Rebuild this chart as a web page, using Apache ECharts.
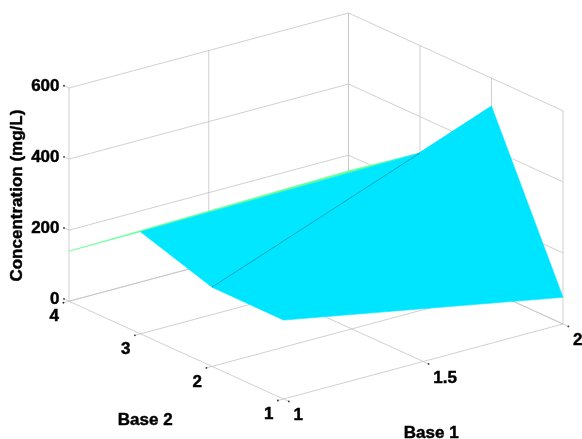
<!DOCTYPE html>
<html>
<head>
<meta charset="utf-8">
<script src="https://cdn.jsdelivr.net/npm/echarts@6/dist/echarts.min.js"></script>
<style>
html, body { margin: 0; padding: 0; background: #fff; }
#main { width: 582px; height: 439px; }
</style>
</head>
<body>
<div id="main"></div>
<script>
// values
var base1 = [1, 2];
var base2 = [1, 2, 3, 4];
// concentration (mg/L), one row per Base 2 value, one column per Base 1 value
var conc = [
    [222, 75],
    [223, 521],
    [287, 298],
    [141, 156]
];
var base1Ticks = [1, 1.5, 2];
var base2Ticks = [1, 2, 3, 4];
var concTicks = [0, 200, 400, 600];

// matlab-like 3d view, drawn on a hidden 2d grid
var az = -37.5 * Math.PI / 180;
var el = 20.5 * Math.PI / 180;
var zAspect = 0.647;
var xr = [1, 2], yr = [1, 4], zr = [0, 600];
var clim = [40, 560];
var font = '"Liberation Sans", Arial, sans-serif';

function norm(x, y, z) {
    return [
        (x - xr[0]) / (xr[1] - xr[0]),
        (y - yr[0]) / (yr[1] - yr[0]),
        (z - zr[0]) / (zr[1] - zr[0]) * zAspect
    ];
}
function proj(x, y, z) {
    var n = norm(x, y, z);
    var h = Math.cos(az) * n[0] + Math.sin(az) * n[1];
    var v = -Math.sin(el) * Math.sin(az) * n[0] + Math.sin(el) * Math.cos(az) * n[1] + Math.cos(el) * n[2];
    return [h, v];
}
// how close to the viewer (bigger = nearer)
function nearness(x, y, z) {
    var n = norm(x, y, z);
    return Math.cos(el) * Math.sin(az) * n[0] - Math.cos(el) * Math.cos(az) * n[1] + Math.sin(el) * n[2];
}
function clamp(v) { return Math.max(0, Math.min(1, v)); }
function jet(val) {
    var t = clamp((val - clim[0]) / (clim[1] - clim[0]));
    var r = clamp(1.5 - Math.abs(4 * t - 3));
    var g = clamp(1.5 - Math.abs(4 * t - 2));
    var b = clamp(1.5 - Math.abs(4 * t - 1));
    return 'rgb(' + Math.round(r * 255) + ',' + Math.round(g * 255) + ',' + Math.round(b * 255) + ')';
}

// box extent on screen
var hs = [], vs = [];
xr.forEach(function (x) { yr.forEach(function (y) { zr.forEach(function (z) {
    var p = proj(x, y, z); hs.push(p[0]); vs.push(p[1]);
}); }); });

// grid lines on floor and the two back walls
var segs = [];
base1Ticks.forEach(function (t) {
    segs.push([t, yr[0], zr[0], t, yr[1], zr[0]]);
    segs.push([t, yr[1], zr[0], t, yr[1], zr[1]]);
});
base2Ticks.forEach(function (t) {
    segs.push([xr[0], t, zr[0], xr[1], t, zr[0]]);
    segs.push([xr[1], t, zr[0], xr[1], t, zr[1]]);
});
concTicks.forEach(function (t) {
    segs.push([xr[0], yr[1], t, xr[1], yr[1], t]);
    segs.push([xr[1], yr[0], t, xr[1], yr[1], t]);
});

// ticks + labels: point, tick direction, text, pixel offset, align
var labels = [];
concTicks.forEach(function (t) {
    labels.push({ p: [xr[0], yr[1], t], d: [0, 0.07, 0], text: String(t), off: [-9.5, -1.5], align: 'right' });
});
base2Ticks.forEach(function (t) {
    labels.push({ p: [xr[0], t, zr[0]], d: [-0.02, 0, 0], text: String(t), off: [-10, 15.5], align: 'right' });
});
base1Ticks.forEach(function (t) {
    labels.push({ p: [t, yr[0], zr[0]], d: [0, -0.075, 0], text: String(t), off: [10, 16.7], align: 'left' });
});
var titles = [
    { p: [xr[0], yr[1], (zr[0] + zr[1]) / 2], text: 'Concentration (mg/L)', off: [-52, 1], rot: Math.PI / 2 },
    { p: [xr[0], (yr[0] + yr[1]) / 2, zr[0]], text: 'Base 2', off: [-31, 70], rot: 0 },
    { p: [(xr[0] + xr[1]) / 2, yr[0], zr[0]], text: 'Base 1', off: [8, 72], rot: 0 }
];

// surface faces, back to front
var faces = [];
for (var j = 0; j < base2.length - 1; j++) {
    for (var i = 0; i < base1.length - 1; i++) {
        var cz = (conc[j][i] + conc[j][i + 1] + conc[j + 1][i] + conc[j + 1][i + 1]) / 4;
        faces.push({ i: i, j: j, depth: nearness((base1[i] + base1[i + 1]) / 2, (base2[j] + base2[j + 1]) / 2, cz) });
    }
}
faces.sort(function (a, b) { return a.depth - b.depth; });
// fold of the non-planar quad (triangulation diagonal) that shows as a dark seam
var seams = [[0, 1]];

var myChart = echarts.init(document.getElementById('main'));

function px(api, x, y, z) { return api.coord(proj(x, y, z)); }
function textStyle(s, align) {
    return { text: s, fill: '#000', stroke: '#000', lineWidth: 0.45, fontSize: 17, fontWeight: 'bold',
        fontFamily: font, align: align, verticalAlign: 'middle' };
}

var option = {
    animation: false,
    grid: { left: 69, right: 19, top: 13, bottom: 40 },
    xAxis: { type: 'value', min: Math.min.apply(null, hs), max: Math.max.apply(null, hs), show: false },
    yAxis: { type: 'value', min: Math.min.apply(null, vs), max: Math.max.apply(null, vs), show: false },
    series: [
        {
            type: 'custom', silent: true, clip: false,
            data: segs.map(function (s, k) { return [k]; }),
            renderItem: function (params, api) {
                var s = segs[params.dataIndex];
                var a = px(api, s[0], s[1], s[2]), b = px(api, s[3], s[4], s[5]);
                return { type: 'line', shape: { x1: a[0], y1: a[1], x2: b[0], y2: b[1] },
                    style: { stroke: '#c4c4c4', lineWidth: 0.8 } };
            }
        },
        {
            type: 'custom', silent: true, clip: false,
            data: labels.map(function (s, k) { return [k]; }),
            renderItem: function (params, api) {
                var l = labels[params.dataIndex];
                var a = px(api, l.p[0], l.p[1], l.p[2]);
                var b = px(api, l.p[0] + l.d[0], l.p[1] + l.d[1], l.p[2] + l.d[2]);
                return { type: 'group', children: [
                    { type: 'line', shape: { x1: a[0], y1: a[1], x2: b[0], y2: b[1] }, style: { stroke: '#c4c4c4', lineWidth: 0.8 } },
                    { type: 'circle', shape: { cx: b[0], cy: b[1], r: 0.9 }, style: { fill: '#333' } },
                    { type: 'text', x: a[0] + l.off[0], y: a[1] + l.off[1], style: textStyle(l.text, l.align) }
                ] };
            }
        },
        {
            type: 'custom', silent: true, clip: false,
            data: titles.map(function (s, k) { return [k]; }),
            renderItem: function (params, api) {
                var t = titles[params.dataIndex];
                var a = px(api, t.p[0], t.p[1], t.p[2]);
                return { type: 'text', x: a[0] + t.off[0], y: a[1] + t.off[1], rotation: t.rot,
                    style: textStyle(t.text, 'center') };
            }
        },
        {
            type: 'custom', silent: true, clip: false,
            data: faces.map(function (f, k) { return [k]; }),
            renderItem: function (params, api) {
                var f = faces[params.dataIndex], i = f.i, j = f.j;
                var pts = [
                    px(api, base1[i], base2[j], conc[j][i]),
                    px(api, base1[i + 1], base2[j], conc[j][i + 1]),
                    px(api, base1[i + 1], base2[j + 1], conc[j + 1][i + 1]),
                    px(api, base1[i], base2[j + 1], conc[j + 1][i])
                ];
                var c = jet(conc[j][i]);
                return { type: 'polygon', shape: { points: pts }, style: { fill: c, stroke: c, lineWidth: 0.6 } };
            }
        },
        {
            type: 'custom', silent: true, clip: false,
            data: seams.map(function (s, k) { return [k]; }),
            renderItem: function (params, api) {
                var s = seams[params.dataIndex], i = s[0], j = s[1];
                var a = px(api, base1[i], base2[j], conc[j][i]);
                var b = px(api, base1[i + 1], base2[j + 1], conc[j + 1][i + 1]);
                return { type: 'line', shape: { x1: a[0], y1: a[1], x2: b[0], y2: b[1] },
                    style: { stroke: 'rgba(30,60,70,0.55)', lineWidth: 0.7 } };
            }
        }
    ]
};

myChart.setOption(option);
</script>
</body>
</html>
